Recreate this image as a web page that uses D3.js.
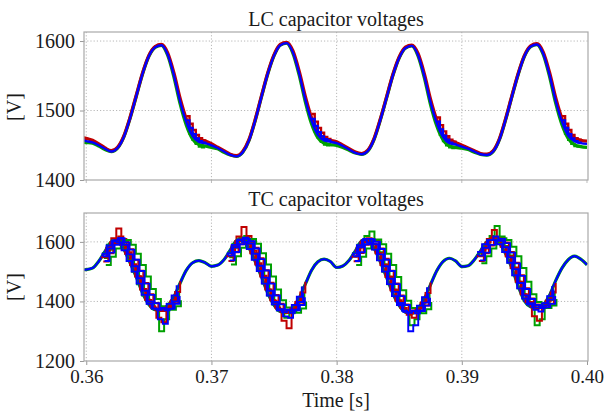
<!DOCTYPE html>
<html><head><meta charset="utf-8">
<script src="https://cdn.jsdelivr.net/npm/d3@7"></script>
<style>
body{margin:0;background:#fff}
svg{display:block}
text{font-family:"Liberation Serif","Times New Roman",serif;fill:#1a1a1a}
</style>
</head><body>
<svg id="c" width="608" height="411"></svg>
<script>
// ---------- DATA ----------
const xTicks = [0.36, 0.37, 0.38, 0.39, 0.40];
const lcTicks = [1400, 1500, 1600];
const tcTicks = [1200, 1400, 1600];
const titles = ["LC capacitor voltages", "TC capacitor voltages"];
const yLabel = "[V]";
const xLabel = "Time [s]";

// sample grid: 0.3595 s .. 0.4000 s every 0.5 ms (82 samples)
const sampleStart = 0.3595, sampleStep = 0.0005;

// LC capacitor voltages (V)
const lcBlue = [1458,1456,1454,1450,1445,1441,1446,1462,1489,1521,1553,1578,1591,1594,1581,1551,1513,1483,1463,1455,1453,1450,1446,1441,1436,
1434,1440,1457,1486,1520,1553,1579,1594,1597,1584,1554,1516,1485,1465,1457,1455,1453,1449,1444,1439,
1437,1442,1459,1487,1519,1551,1576,1590,1593,1580,1550,1512,1482,1462,1453,1451,1448,1445,1441,1437,
1436,1441,1458,1487,1520,1552,1578,1592,1595,1582,1552,1514,1484,1464,1456,1453,1452];
const lcRed = [1461,1460,1457,1452,1446,1442,1447,1463,1490,1522,1554,1579,1592,1595,1583,1554,1517,1487,1466,1458,1456,1452,1447,1442,1437,
1435,1441,1458,1487,1521,1554,1580,1595,1598,1586,1557,1520,1489,1468,1460,1457,1455,1450,1445,1440,
1438,1443,1460,1488,1520,1552,1577,1591,1594,1582,1553,1516,1486,1465,1457,1454,1450,1446,1442,1438,
1437,1442,1459,1488,1521,1553,1579,1593,1596,1584,1555,1518,1488,1467,1460,1457,1456];
const lcGreen = [1455,1454,1453,1449,1444,1441,1446,1462,1489,1521,1553,1578,1591,1594,1580,1549,1510,1479,1459,1451,1449,1447,1445,1440,1436,
1434,1440,1457,1486,1520,1553,1579,1594,1597,1583,1552,1513,1481,1461,1453,1451,1450,1447,1443,1439,
1437,1442,1459,1487,1519,1551,1576,1590,1593,1579,1548,1509,1478,1458,1449,1447,1446,1444,1440,1437,
1436,1441,1458,1487,1520,1552,1578,1592,1595,1581,1550,1511,1480,1460,1451,1448,1447];

// LC stepped segments at the knee of the falling edges (start time, 0.25 ms steps)
const lcStepStart = [0.3680, 0.3780, 0.3880, 0.3980];
const lcStepDt = 0.00025;
const lcStepRed = [[1492,1481,1472,1465,1460,1457,1456],[1495,1484,1475,1468,1462,1459,1458],[1490,1479,1470,1463,1458,1455,1454],[1492,1481,1472,1465,1460,1458,1457]];
const lcStepGreen = [[1478,1467,1458,1452,1448,1447,1447],[1480,1470,1461,1455,1451,1450,1450],[1476,1465,1456,1450,1447,1446,1446],[1478,1467,1458,1452,1449,1448,1447]];
const lcStepBlue = [[1486,1475,1466,1460,1456,1454,1453],[1488,1478,1469,1463,1459,1457,1456],[1484,1473,1464,1458,1454,1452,1451],[1486,1475,1466,1460,1456,1454,1453]];

// TC capacitor voltages (V), smooth trace
const tcBlue = [1506,
1507,1512,1535,1568,1600,1605,1575,1530,1482,1428,1390,1372,1370,1385,1415,1462,1505,1530,1537,1530,
1518,1522,1540,1572,1604,1608,1580,1534,1482,1428,1388,1366,1362,1378,1410,1458,1505,1533,1542,1534,
1514,1519,1538,1570,1603,1606,1578,1532,1480,1426,1386,1364,1360,1376,1408,1456,1503,1534,1545,1536,
1517,1520,1540,1570,1600,1612,1596,1560,1512,1452,1402,1382,1377,1388,1420,1470,1512,1540,1552,1542,
1523];

// TC stepped traces per cycle (start time, 0.4 ms steps), three per colour
const tcStepStart = [0.3612, 0.3712, 0.3812, 0.3912];
const tcStepDt = 0.0004;
const tcStepRed = [
 [[1548,1580,1612,1645,1610,1565,1525,1485,1442,1405,1380,1345,1330,1385,1405,1436],
  [1534,1562,1595,1618,1600,1575,1540,1503,1462,1424,1395,1378,1372,1378,1394,1420],
  [1570,1598,1606,1590,1560,1522,1484,1440,1406,1384,1372,1368,1380,1400,1432,1468]],
 [[1552,1585,1618,1650,1620,1570,1528,1486,1440,1402,1375,1335,1310,1370,1400,1432],
  [1536,1565,1592,1612,1606,1580,1545,1505,1463,1422,1392,1372,1364,1372,1390,1416],
  [1572,1602,1610,1594,1562,1524,1484,1440,1404,1380,1366,1362,1376,1398,1430,1466]],
 [[1550,1580,1606,1612,1594,1562,1524,1484,1440,1404,1378,1355,1345,1376,1398,1430],
  [1535,1563,1590,1610,1604,1578,1543,1503,1460,1420,1390,1370,1361,1368,1386,1412],
  [1570,1600,1608,1592,1562,1522,1482,1438,1402,1378,1364,1360,1374,1396,1428,1464]],
 [[1552,1578,1610,1640,1612,1584,1552,1514,1466,1424,1398,1350,1335,1390,1408,1440],
  [1536,1562,1588,1606,1612,1598,1566,1530,1488,1444,1410,1390,1380,1380,1392,1418],
  [1570,1598,1614,1606,1584,1552,1512,1466,1424,1398,1384,1378,1384,1402,1430,1462]]];
const tcStepGreen = [
 [[1546,1574,1600,1603,1586,1556,1518,1480,1436,1400,1375,1300,1340,1380,1402,1432],
  [1562,1590,1605,1598,1575,1540,1500,1458,1420,1392,1375,1370,1376,1392,1418,1452],
  [1522,1550,1578,1602,1606,1590,1560,1522,1484,1442,1408,1384,1374,1372,1384,1404]],
 [[1548,1580,1615,1620,1595,1562,1520,1478,1434,1398,1372,1345,1360,1385,1400,1428],
  [1564,1592,1608,1600,1578,1542,1502,1460,1420,1390,1370,1363,1370,1388,1415,1450],
  [1524,1552,1580,1606,1610,1594,1562,1524,1484,1440,1404,1380,1366,1362,1376,1400]],
 [[1552,1588,1620,1635,1605,1565,1524,1482,1438,1398,1370,1320,1340,1380,1398,1428],
  [1563,1590,1606,1598,1575,1540,1500,1458,1418,1388,1369,1361,1367,1385,1412,1446],
  [1522,1550,1578,1604,1608,1592,1560,1522,1482,1438,1402,1378,1364,1360,1374,1398]],
 [[1554,1580,1620,1653,1618,1586,1554,1512,1464,1420,1394,1320,1340,1388,1405,1436],
  [1564,1590,1606,1610,1594,1566,1530,1488,1444,1410,1390,1380,1380,1392,1416,1450],
  [1528,1552,1578,1600,1612,1606,1584,1552,1512,1466,1424,1398,1384,1378,1386,1408]]];
const tcStepBlue = [
 [[1552,1578,1606,1612,1590,1558,1518,1478,1436,1400,1376,1340,1325,1375,1400,1432],
  [1536,1564,1590,1612,1598,1574,1540,1502,1460,1422,1394,1378,1370,1376,1392,1418],
  [1560,1588,1602,1598,1572,1536,1500,1460,1422,1392,1376,1372,1376,1392,1420,1454]],
 [[1554,1582,1608,1614,1594,1560,1520,1480,1436,1398,1374,1350,1345,1372,1398,1430],
  [1538,1566,1592,1610,1602,1578,1542,1504,1460,1420,1390,1372,1362,1370,1388,1414],
  [1562,1590,1606,1600,1576,1540,1502,1460,1420,1390,1370,1364,1370,1388,1416,1450]],
 [[1552,1582,1610,1610,1592,1558,1518,1476,1432,1395,1365,1300,1320,1370,1396,1428],
  [1536,1565,1592,1608,1600,1576,1540,1502,1458,1418,1388,1369,1360,1368,1386,1412],
  [1561,1589,1605,1598,1574,1538,1500,1458,1418,1388,1369,1362,1368,1386,1414,1448]],
 [[1554,1580,1606,1618,1604,1582,1548,1508,1462,1420,1394,1372,1366,1386,1406,1440],
  [1538,1564,1590,1606,1610,1596,1564,1528,1486,1442,1408,1388,1378,1380,1392,1418],
  [1566,1592,1606,1606,1592,1566,1530,1488,1444,1410,1390,1380,1380,1394,1418,1452]]];

const colRed = "#c00000", colGreen = "#00a000", colBlue = "#0000ff";

// ---------- DRAW ----------
const svg = d3.select("#c");
const x = d3.scaleLinear().domain([0.35982, 0.40008]).range([84, 588]);
const yTop = d3.scaleLinear().domain([1400, 1613]).range([180, 32]);
const yBot = d3.scaleLinear().domain([1200, 1697]).range([361, 213]);

const toPts = (vals, t0, dt) => vals.map((v, i) => [t0 + i * dt, v]);

function panel(id, y, ticks, title, titleY, labelY, showX) {
  const [y0, y1] = y.range();
  const g = svg.append("g");
  svg.append("clipPath").attr("id", id).append("rect")
    .attr("x", 84).attr("y", y1).attr("width", 504).attr("height", y0 - y1);
  const grid = g.append("g").attr("stroke", "#b8b8b8").attr("stroke-width", 1).attr("stroke-dasharray", "1.2,2");
  grid.selectAll(".gx").data(xTicks.filter(t => t < 0.3999)).join("line")
    .attr("x1", d => x(d)).attr("x2", d => x(d)).attr("y1", y1).attr("y2", y0);
  grid.selectAll(".gy").data(ticks.filter(t => t > y.domain()[0])).join("line")
    .attr("x1", 84).attr("x2", 588).attr("y1", d => y(d)).attr("y2", d => y(d));
  svg.append("text").attr("x", 336).attr("y", titleY).attr("text-anchor", "middle")
    .attr("font-size", 20).text(title);
  svg.append("text").attr("transform", `translate(21,${labelY}) rotate(-90)`)
    .attr("text-anchor", "middle").attr("font-size", 20).text(yLabel);
  const plot = svg.append("g").attr("clip-path", `url(#${id})`);
  const ax = d3.axisLeft(y).tickValues(ticks).tickSize(4).tickPadding(5).tickFormat(d3.format("d"));
  const ga = svg.append("g").attr("transform", "translate(84,0)").call(ax);
  ga.select(".domain").remove();
  ga.selectAll("line").attr("stroke", "#999");
  ga.selectAll("text").attr("font-size", 20).attr("font-family", '"Liberation Serif",serif').attr("fill", "#1a1a1a");
  if (showX) {
    const bx = d3.axisBottom(x).tickValues(xTicks).tickSize(4).tickPadding(5).tickFormat(d3.format(".2f"));
    const gb = svg.append("g").attr("transform", `translate(0,${y0})`).call(bx);
    gb.select(".domain").remove();
    gb.selectAll("line").attr("stroke", "#999");
    gb.selectAll("text").attr("font-size", 19).attr("font-family", '"Liberation Serif",serif').attr("fill", "#1a1a1a");
  } else {
    svg.append("g").selectAll("line").data(xTicks).join("line")
      .attr("x1", d => x(d)).attr("x2", d => x(d)).attr("y1", y0).attr("y2", y0 + 3).attr("stroke", "#bbb");
  }
  svg.append("rect").attr("x", 84).attr("y", y1).attr("width", 504).attr("height", y0 - y1)
    .attr("fill", "none").attr("stroke", "#a9a9a9").attr("stroke-width", 1.2);
  return plot;
}

const pTop = panel("clipTop", yTop, lcTicks, titles[0], 25.5, 107, false);
const pBot = panel("clipBot", yBot, tcTicks, titles[1], 205.5, 287, true);

function drawLine(g, y, pts, color, w, curve) {
  const line = d3.line().x(d => x(d[0])).y(d => y(d[1])).curve(curve);
  g.append("path").attr("d", line(pts)).attr("fill", "none").attr("stroke", color)
    .attr("stroke-width", w).attr("stroke-linejoin", "miter").attr("stroke-linecap", "butt");
}

// top panel
drawLine(pTop, yTop, toPts(lcGreen, sampleStart, sampleStep), colGreen, 3.4, d3.curveMonotoneX);
drawLine(pTop, yTop, toPts(lcRed, sampleStart, sampleStep), colRed, 3.4, d3.curveMonotoneX);
lcStepStart.forEach((t0, k) => {
  drawLine(pTop, yTop, toPts(lcStepGreen[k], t0, lcStepDt), colGreen, 2.4, d3.curveStepAfter);
  drawLine(pTop, yTop, toPts(lcStepRed[k], t0, lcStepDt), colRed, 2.4, d3.curveStepAfter);
});
drawLine(pTop, yTop, toPts(lcBlue, sampleStart, sampleStep), colBlue, 2.4, d3.curveMonotoneX);
lcStepStart.forEach((t0, k) => {
  drawLine(pTop, yTop, toPts(lcStepBlue[k], t0, lcStepDt), colBlue, 2.2, d3.curveStepAfter);
});

// bottom panel
const phase = [[0, 0.4, 0.75], [0.55, 0.15, 0.9], [0.3, 0.65, 0.05]]; // red, green, blue step phase (fraction of a step)
drawLine(pBot, yBot, toPts(tcBlue, sampleStart, sampleStep), colGreen, 3.2, d3.curveMonotoneX);
drawLine(pBot, yBot, toPts(tcBlue, sampleStart, sampleStep), colBlue, 2.2, d3.curveMonotoneX);
tcStepStart.forEach((t0, k) => {
  for (let j = 0; j < 3; j++) {
    drawLine(pBot, yBot, toPts(tcStepGreen[k][j], t0 + tcStepDt * phase[1][j], tcStepDt), colGreen, 2, d3.curveStepAfter);
    drawLine(pBot, yBot, toPts(tcStepRed[k][j], t0 + tcStepDt * phase[0][j], tcStepDt), colRed, 2, d3.curveStepAfter);
  }
  for (let j = 0; j < 3; j++) {
    drawLine(pBot, yBot, toPts(tcStepBlue[k][j], t0 + tcStepDt * phase[2][j], tcStepDt), colBlue, 1.9, d3.curveStepAfter);
  }
});

svg.append("text").attr("x", 336).attr("y", 406.5).attr("text-anchor", "middle")
  .attr("font-size", 20).text(xLabel);
</script>
</body></html>
